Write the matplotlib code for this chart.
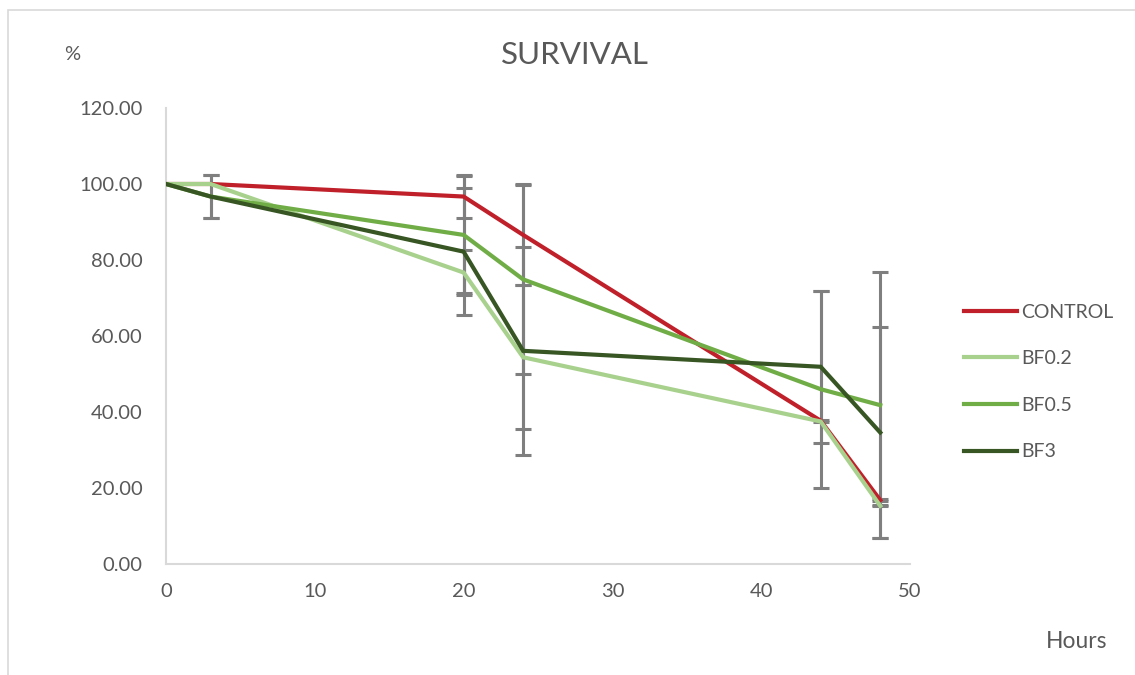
import matplotlib
matplotlib.use("Agg")
import matplotlib.pyplot as plt
import numpy as np
from matplotlib.patches import Rectangle

hours = [0, 3, 20, 24, 44, 48]
series_names = ["CONTROL", "BF0.2", "BF0.5", "BF3"]
control = [100, 100, 96.7, 86.6, 37.7, 16.8]
bf02 = [100, 100, 76.7, 54.4, 37.5, 15.3]
bf05 = [100, 96.7, 86.6, 74.9, 46.0, 41.8]
bf3 = [100, 96.7, 82.2, 56.1, 51.9, 34.6]
control_err = [0, 0, 5.7, 13.3, 0.3, 0.2]
bf02_err = [0, 0, 5.9, 18.9, 0, 0.1]
bf05_err = [0, 5.7, 15.4, 24.9, 25.9, 35.0]
bf3_err = [0, 5.7, 16.7, 27.3, 20.0, 27.8]
colors = ["#C0202A", "#A9D18E", "#70AD47", "#375623"]

plt.rcParams['font.family'] = ['Lato', 'DejaVu Sans']
txt = "#595959"

W, H = 1135, 675
fig = plt.figure(figsize=(W / 100, H / 100), dpi=100)
ax = fig.add_axes([166 / W, 1 - 564 / H, (910 - 166) / W, (564 - 108) / H])

# outer chart border
fig.patches.append(Rectangle((8 / W, -0.1), 1.2, 1 - 10 / H + 0.1, transform=fig.transFigure,
                             fill=False, edgecolor="#D9D9D9", linewidth=1.2))

all_vals = [control, bf02, bf05, bf3]
all_errs = [control_err, bf02_err, bf05_err, bf3_err]
x = np.array(hours, dtype=float)
for name, vals, errs, c in zip(series_names, all_vals, all_errs, colors):
    v = np.array(vals, dtype=float)
    e = np.array(errs, dtype=float)
    m = e > 0
    ax.errorbar(x[m], v[m], yerr=e[m], fmt='none', ecolor="#7F7F7F", elinewidth=2.2,
                capsize=6, capthick=2.2, zorder=1)
    ax.plot(x, v, color=c, linewidth=3, label=name, zorder=3, solid_joinstyle='miter')

ax.set_xlim(0, 50)
ax.set_ylim(0, 120)
ax.set_xticks(range(0, 51, 10))
ax.set_yticks(range(0, 121, 20))
ax.set_yticklabels([f"{v:.2f}" for v in range(0, 121, 20)])
ax.tick_params(axis='both', length=0, labelsize=14.5, labelcolor=txt)
ax.tick_params(axis='y', pad=17)
ax.tick_params(axis='x', pad=14)
for s in ["top", "right"]:
    ax.spines[s].set_visible(False)
for s in ["left", "bottom"]:
    ax.spines[s].set_color("#D9D9D9")
    ax.spines[s].set_linewidth(1.5)

fig.text(575 / W, 1 - 55 / H, "SURVIVAL", ha="center", va="center", fontsize=22.5, color=txt)
fig.text(72 / W, 1 - 55 / H, "%", ha="center", va="center", fontsize=14.5, color=txt)
fig.text(1077 / W, 1 - 641 / H, "Hours", ha="center", va="center", fontsize=16.5, color=txt)

leg = ax.legend(loc="center left", bbox_to_anchor=(946 / W, 1 - 382 / H), bbox_transform=fig.transFigure,
                frameon=False, fontsize=14, labelspacing=1.52, handlelength=2.75, handletextpad=0.2)
for t in leg.get_texts():
    t.set_color(txt)

fig.savefig("out.png", dpi=100)
